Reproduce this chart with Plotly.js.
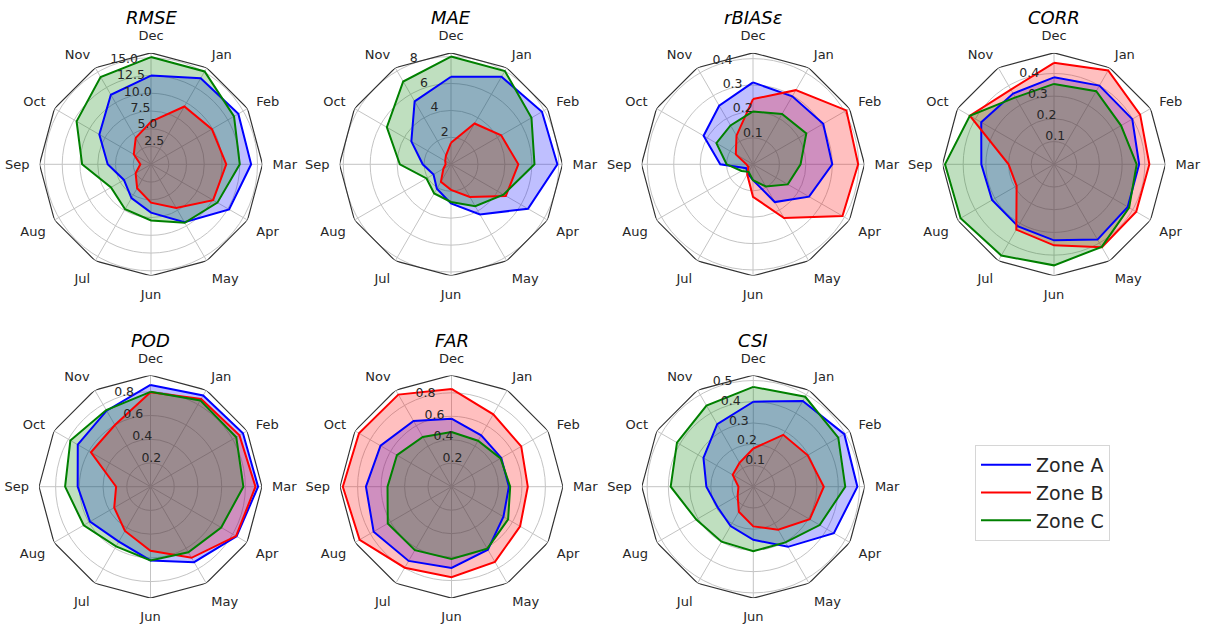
<!DOCTYPE html>
<html><head><meta charset="utf-8">
<script src="https://cdn.plot.ly/plotly-3.0.1.min.js"></script>
<style>body{margin:0;background:#fff;} #chart{width:1205px;height:624px;}</style>
</head><body><div id="chart"></div>
<script>
// ---------- data ----------
const months = ['Dec','Jan','Feb','Mar','Apr','May','Jun','Jul','Aug','Sep','Oct','Nov'];
const zones = ['Zone A','Zone B','Zone C'];

const rmse_A = [12.5,14.0,14.2,14.1,12.7,9.4,6.8,5.5,4.4,6.1,8.4,11.3];
const rmse_B = [6.0,9.4,9.9,10.6,10.1,7.1,5.4,3.9,2.5,1.5,2.8,4.3];
const rmse_C = [15.1,15.1,13.5,12.5,10.8,9.5,7.9,7.3,6.5,9.7,12.1,14.2];

const mae_A = [6.5,7.5,7.8,7.9,6.6,4.3,2.9,2.1,1.5,2.1,3.4,5.4];
const mae_B = [1.6,3.5,4.3,5.0,4.7,2.8,1.9,1.5,0.65,0.4,0.5,0.75];
const mae_C = [8.0,8.0,6.9,6.2,4.5,3.6,2.8,2.5,2.1,3.8,5.5,7.1];

const rbias_A = [0.31,0.297,0.307,0.30,0.245,0.165,0.06,0.04,0.03,0.124,0.216,0.256];
const rbias_B = [0.247,0.324,0.408,0.398,0.391,0.235,0.123,0.044,0.02,0.025,0.075,0.125];
const rbias_C = [0.2,0.22,0.233,0.18,0.152,0.097,0.06,0.033,0.05,0.1,0.16,0.17];

const corr_A = [0.383,0.40,0.398,0.375,0.375,0.383,0.335,0.316,0.315,0.32,0.37,0.36];
const corr_B = [0.447,0.477,0.438,0.42,0.418,0.422,0.357,0.332,0.19,0.2,0.428,0.38];
const corr_C = [0.354,0.372,0.341,0.364,0.382,0.42,0.445,0.464,0.475,0.48,0.428,0.34];

const pod_A = [0.858,0.888,0.9,0.907,0.838,0.735,0.622,0.534,0.589,0.614,0.708,0.74];
const pod_B = [0.797,0.854,0.866,0.885,0.833,0.692,0.54,0.431,0.353,0.29,0.58,0.6];
const pod_C = [0.80,0.84,0.835,0.783,0.688,0.638,0.622,0.581,0.65,0.72,0.78,0.746];

const far_A = [0.579,0.506,0.49,0.489,0.511,0.62,0.692,0.73,0.766,0.729,0.698,0.647];
const far_B = [0.833,0.712,0.686,0.65,0.675,0.74,0.771,0.797,0.904,0.926,0.91,0.906];
const far_C = [0.466,0.452,0.483,0.5,0.557,0.61,0.616,0.624,0.627,0.545,0.537,0.49];

const csi_A = [0.40,0.466,0.495,0.49,0.438,0.327,0.25,0.214,0.194,0.221,0.271,0.34];
const csi_B = [0.18,0.282,0.296,0.332,0.307,0.234,0.187,0.136,0.085,0.07,0.112,0.13];
const csi_C = [0.47,0.489,0.462,0.433,0.361,0.303,0.304,0.299,0.31,0.389,0.415,0.441];

const titles = ['RMSE','MAE','rBIASε','CORR','POD','FAR','CSI'];
const rmaxes = [15.7, 8.28, 0.422, 0.491, 0.94, 0.95, 0.525];
const tickvals = [
  [2.5,5,7.5,10,12.5,15],
  [2,4,6,8],
  [0.1,0.2,0.3,0.4],
  [0.1,0.2,0.3,0.4],
  [0.2,0.4,0.6,0.8],
  [0.2,0.4,0.6,0.8],
  [0.1,0.2,0.3,0.4,0.5]
];
const tickdecimals = [1,0,1,1,1,1,1];
const series = [
  [rmse_A, rmse_B, rmse_C],
  [mae_A, mae_B, mae_C],
  [rbias_A, rbias_B, rbias_C],
  [corr_A, corr_B, corr_C],
  [pod_A, pod_B, pod_C],
  [far_A, far_B, far_C],
  [csi_A, csi_B, csi_C]
];

// ---------- styling / layout ----------
const W = 1205, H = 624, R = 111.5;
const centers = [[151,164.3],[451,164.3],[753,164.3],[1054,164.3],[150.5,486.7],[451.5,486.7],[753.3,486.7]];
const lineColors = ['#0000ff','#ff0000','#008000'];
const fillColors = ['rgba(0,0,255,0.25)','rgba(255,0,0,0.25)','rgba(0,128,0,0.25)'];
const FONT = 'DejaVu Sans, sans-serif';
const TXT = '#262626';
const LABEL_ANGLE = 337.5;   // radial tick labels: 22.5 deg counter-clockwise from Dec

const monthAngles = months.map((m, k) => k * 360 / months.length);
const close = a => a.concat([a[0]]);
const thetaClosed = close(monthAngles);

const traces = [];
const layout = {
  width: W, height: H,
  margin: {l:0, r:0, t:0, b:0},
  paper_bgcolor: '#ffffff',
  showlegend: true,
  legend: {
    x: 975/W, y: 1 - 445/H, xanchor: 'left', yanchor: 'top',
    font: {family: FONT, size: 19, color: TXT},
    bordercolor: '#d6d6d6', borderwidth: 1, bgcolor: '#ffffff',
    itemwidth: 50, tracegroupgap: 0
  },
  annotations: []
};

titles.forEach((t, i) => {
  const key = i === 0 ? 'polar' : 'polar' + (i + 1);
  const sub = key;
  const [cx, cy] = centers[i];
  const rmax = rmaxes[i];
  layout[key] = {
    domain: {x: [(cx - R)/W, (cx + R)/W], y: [1 - (cy + R)/H, 1 - (cy - R)/H]},
    bgcolor: 'rgba(0,0,0,0)',
    angularaxis: {
      thetaunit: 'degrees', rotation: 90, direction: 'clockwise',
      tickmode: 'array', tickvals: monthAngles, ticktext: months,
      showline: false, showgrid: true, gridcolor: '#c4c4c4', gridwidth: 1,
      ticks: 'outside', ticklen: 7, tickcolor: 'rgba(0,0,0,0)',
      tickfont: {family: FONT, size: 13, color: TXT}
    },
    radialaxis: {
      range: [0, rmax], tickvals: tickvals[i],
      showline: false, ticks: '', showgrid: true, gridcolor: '#c4c4c4', gridwidth: 1,
      showticklabels: false
    }
  };
  // translucent fills first (below every line, like matplotlib patches)
  series[i].forEach((vals, z) => {
    traces.push({
      type: 'scatterpolar', subplot: sub,
      theta: thetaClosed, r: close(vals),
      mode: 'none', fill: 'toself', fillcolor: fillColors[z],
      name: zones[z], showlegend: false, hoverinfo: 'skip'
    });
  });
  // polygon frame at rmax
  traces.push({
    type: 'scatterpolar', subplot: sub,
    theta: thetaClosed, r: thetaClosed.map(() => rmax),
    mode: 'lines', line: {color: '#333333', width: 1.2},
    cliponaxis: false, showlegend: false, hoverinfo: 'skip'
  });
  // outlines
  series[i].forEach((vals, z) => {
    traces.push({
      type: 'scatterpolar', subplot: sub,
      theta: thetaClosed, r: close(vals),
      mode: 'lines', line: {color: lineColors[z], width: 2},
      name: zones[z], showlegend: false, hoverinfo: 'skip'
    });
  });
  // radial tick labels (horizontal, bottom-left anchored like matplotlib)
  traces.push({
    type: 'scatterpolar', subplot: sub,
    theta: tickvals[i].map(() => LABEL_ANGLE), r: tickvals[i],
    mode: 'text', text: tickvals[i].map(v => v.toFixed(tickdecimals[i])),
    textposition: 'top right', cliponaxis: false,
    textfont: {family: FONT, size: 12.5, color: TXT},
    showlegend: false, hoverinfo: 'skip'
  });
  layout.annotations.push({
    xref: 'paper', yref: 'paper', x: cx/W, y: 1 - (i < 4 ? 17 : 340.5)/H,
    xanchor: 'center', yanchor: 'middle', showarrow: false,
    text: '<i>' + t + '</i>', font: {family: FONT, size: 18, color: '#000000'}
  });
});

// legend entries
zones.forEach((z, k) => {
  traces.push({
    type: 'scatterpolar', subplot: 'polar7',
    theta: [null], r: [null], mode: 'lines',
    line: {color: lineColors[k], width: 2}, name: z, showlegend: true, hoverinfo: 'skip'
  });
});

Plotly.newPlot('chart', traces, layout, {staticPlot: true, displayModeBar: false});
</script>
</body></html>
